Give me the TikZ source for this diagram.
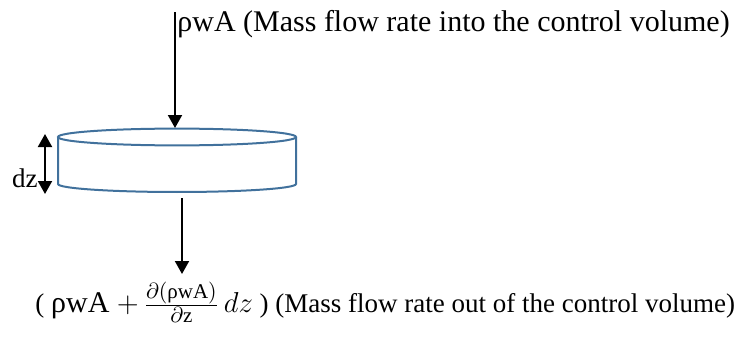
\documentclass[tikz,border=0pt]{standalone}
\usepackage{amsmath}
\usepackage{fontspec}
\setmainfont{Liberation Serif}
\usetikzlibrary{shapes.geometric, arrows.meta, positioning}
\definecolor{cvblue}{RGB}{65, 113, 156}

\begin{document}
\begin{tikzpicture}[
        x=0.5pt, y=-0.5pt,
        label/.style={inner sep=0pt, font=\fontsize{13.5}{16}\selectfont},
        biglabel/.style={label, font=\fontsize{15}{18}\selectfont},
        volume/.style={draw=cvblue, line width=1pt},
        flow/.style={-{Triangle[width=7pt, length=6.5pt]}, line width=1pt}
    ]
        \useasboundingbox (0,0) rectangle (752,337);

        % Control volume
        \coordinate (cvtop) at (177,137);
        \coordinate (cvleft) at (58,137);
        \coordinate (cvright) at (296,137);
        \coordinate (cvbl) at (58,184);
        \coordinate (cvbr) at (296,184);
        \draw[volume] (cvtop) ellipse [x radius=59.5pt, y radius=4.2pt];
        \draw[volume] (cvleft) -- (cvbl) arc [start angle=180, end angle=360, x radius=59.5pt, y radius=4pt] -- (cvright);

        % Labels
        \node[biglabel, anchor=base west] (inflow) at (177,32) {ρwA (Mass flow rate into the control volume)};
        \node[label, anchor=base west] (outflow) at (35,313) {( {\fontsize{15}{18}\selectfont ρwA $+\,\frac{\partial(\text{ρwA})}{\partial\text{z}}\,dz$} ) (Mass flow rate out of the control volume)};
        \node[label, anchor=base east] (dz) at (38,188) {dz};

        % Arrow ends
        \coordinate (intop) at (175,12);
        \coordinate (intip) at (175,128);
        \coordinate (outtop) at (182,198);
        \coordinate (outtip) at (182,274);
        \coordinate (dztop) at (45,134);
        \coordinate (dzbot) at (45,194);

        % Arrows
        \draw[flow] (intop) -- (intip);
        \draw[flow] (outtop) -- (outtip);
        \draw[flow, {Triangle[width=7pt, length=6.5pt]}-{Triangle[width=7pt, length=6.5pt]}] (dztop) -- (dzbot);

    \end{tikzpicture}
\end{document}
